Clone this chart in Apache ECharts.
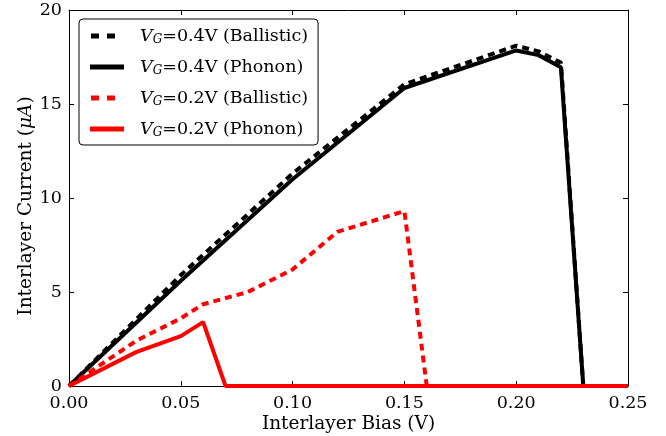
<!DOCTYPE html>
<html>
<head>
<meta charset="utf-8">
<script src="https://cdn.jsdelivr.net/npm/echarts@6/dist/echarts.min.js"></script>
<style>
  html, body { margin: 0; padding: 0; background: #fff; }
  #chart { width: 666px; height: 436px; }
</style>
</head>
<body>
<div id="chart"></div>
<script>
// data
const ballistic04X = [0, 0.05, 0.10, 0.15, 0.20, 0.21, 0.22, 0.23, 0.25];
const ballistic04Y = [0, 5.9, 11.3, 16.05, 18.1, 17.8, 17.2, 0, 0];
const phonon04X = [0, 0.05, 0.10, 0.15, 0.20, 0.21, 0.22, 0.23, 0.25];
const phonon04Y = [0, 5.6, 11.0, 15.85, 17.85, 17.6, 16.95, 0, 0];
const ballistic02X = [0, 0.01, 0.03, 0.05, 0.06, 0.08, 0.10, 0.12, 0.15, 0.16, 0.25];
const ballistic02Y = [0, 0.8, 2.4, 3.6, 4.35, 5.0, 6.2, 8.2, 9.3, 0, 0];
const phonon02X = [0, 0.03, 0.05, 0.06, 0.07, 0.25];
const phonon02Y = [0, 1.8, 2.65, 3.4, 0, 0];

const names = [
  '0.4V (Ballistic)',
  '0.4V (Phonon)',
  '0.2V (Ballistic)',
  '0.2V (Phonon)'
];

const pairs = (xs, ys) => xs.map((x, i) => [x, ys[i]]);
const font = 'DejaVu Serif';
const fs = 17.5;
const nameFs = 18.5;

// legend icons: two short dashes or one bar
const dashIcon = 'path://M2,0H10V5H2Z M18,0H26V5H18Z M33.9,0H34V0.01H33.9Z';
const solidIcon = 'path://M0,0H34V5H0Z';

const chart = echarts.init(document.getElementById('chart'));

const axisCommon = {
  axisLine: { show: true, onZero: false, lineStyle: { color: '#000', width: 1 } },
  axisTick: { show: true, inside: true, length: 5, lineStyle: { color: '#000' } },
  splitLine: { show: false }
};

function line(name, xs, ys, color, dashed, z) {
  return {
    type: 'line',
    name: name,
    data: pairs(xs, ys),
    showSymbol: false,
    symbol: 'none',
    z: z,
    animation: false,
    lineStyle: {
      color: color,
      width: 4,
      type: dashed ? [7, 5] : 'solid',
      cap: 'butt'
    },
    itemStyle: { color: color }
  };
}

const option = {
  backgroundColor: '#fff',
  animation: false,
  grid: { left: 69, right: 38, top: 10, bottom: 50, outerBoundsMode: 'none', containLabel: false },
  xAxis: [
    Object.assign({}, axisCommon, {
      type: 'value', min: 0, max: 0.25, interval: 0.05,
      name: 'Interlayer Bias (V)',
      nameLocation: 'middle', nameGap: 29, nameMoveOverlap: false,
      nameTextStyle: { fontFamily: font, fontSize: nameFs, color: '#000' },
      axisLabel: {
        fontFamily: font, fontSize: fs, color: '#000', margin: 8,
        formatter: v => v.toFixed(2)
      }
    }),
    Object.assign({}, axisCommon, {
      type: 'value', min: 0, max: 0.25, interval: 0.05,
      position: 'top', axisLabel: { show: false }
    })
  ],
  yAxis: [
    Object.assign({}, axisCommon, {
      type: 'value', min: 0, max: 20, interval: 5,
      name: '{n|Interlayer Current (}{i|μA}{n|)}',
      nameLocation: 'middle', nameGap: 33, nameRotate: 90, nameMoveOverlap: false,
      nameTextStyle: {
        fontFamily: font, fontSize: nameFs, color: '#000',
        padding: [0, 16, 0, 0],
        rich: {
          n: { fontFamily: font, fontSize: nameFs, color: '#000' },
          i: { fontFamily: font, fontSize: nameFs, color: '#000', fontStyle: 'italic' }
        }
      },
      axisLabel: { fontFamily: font, fontSize: fs, color: '#000', margin: 7 }
    }),
    Object.assign({}, axisCommon, {
      type: 'value', min: 0, max: 20, interval: 5,
      position: 'right', axisLabel: { show: false }
    })
  ],
  legend: {
    left: 79, top: 19,
    orient: 'vertical',
    data: [
      { name: names[0], icon: dashIcon },
      { name: names[1], icon: solidIcon },
      { name: names[2], icon: dashIcon },
      { name: names[3], icon: solidIcon }
    ],
    backgroundColor: '#fff',
    borderColor: '#000',
    borderWidth: 1,
    borderRadius: 4,
    padding: [6, 10, 6, 11],
    itemGap: 10,
    itemWidth: 34,
    itemHeight: 5,
    selectedMode: false,
    formatter: n => '{v|V}{s|G}{t|=' + n + '}',
    textStyle: {
      fontFamily: font, fontSize: fs, color: '#000',
      padding: [0, 0, 0, 11],
      rich: {
        v: { fontFamily: font, fontSize: fs, fontStyle: 'italic', color: '#000', lineHeight: 20 },
        s: { fontFamily: font, fontSize: 12, fontStyle: 'italic', color: '#000', verticalAlign: 'bottom', padding: [9, 0, 0, 0], lineHeight: 20 },
        t: { fontFamily: font, fontSize: fs, color: '#000', lineHeight: 20 }
      }
    }
  },
  series: [
    line(names[0], ballistic04X, ballistic04Y, '#000', true, 3),
    line(names[1], phonon04X, phonon04Y, '#000', false, 2),
    line(names[2], ballistic02X, ballistic02Y, '#ff0000', true, 4),
    line(names[3], phonon02X, phonon02Y, '#ff0000', false, 5)
  ]
};

chart.setOption(option);
</script>
</body>
</html>
